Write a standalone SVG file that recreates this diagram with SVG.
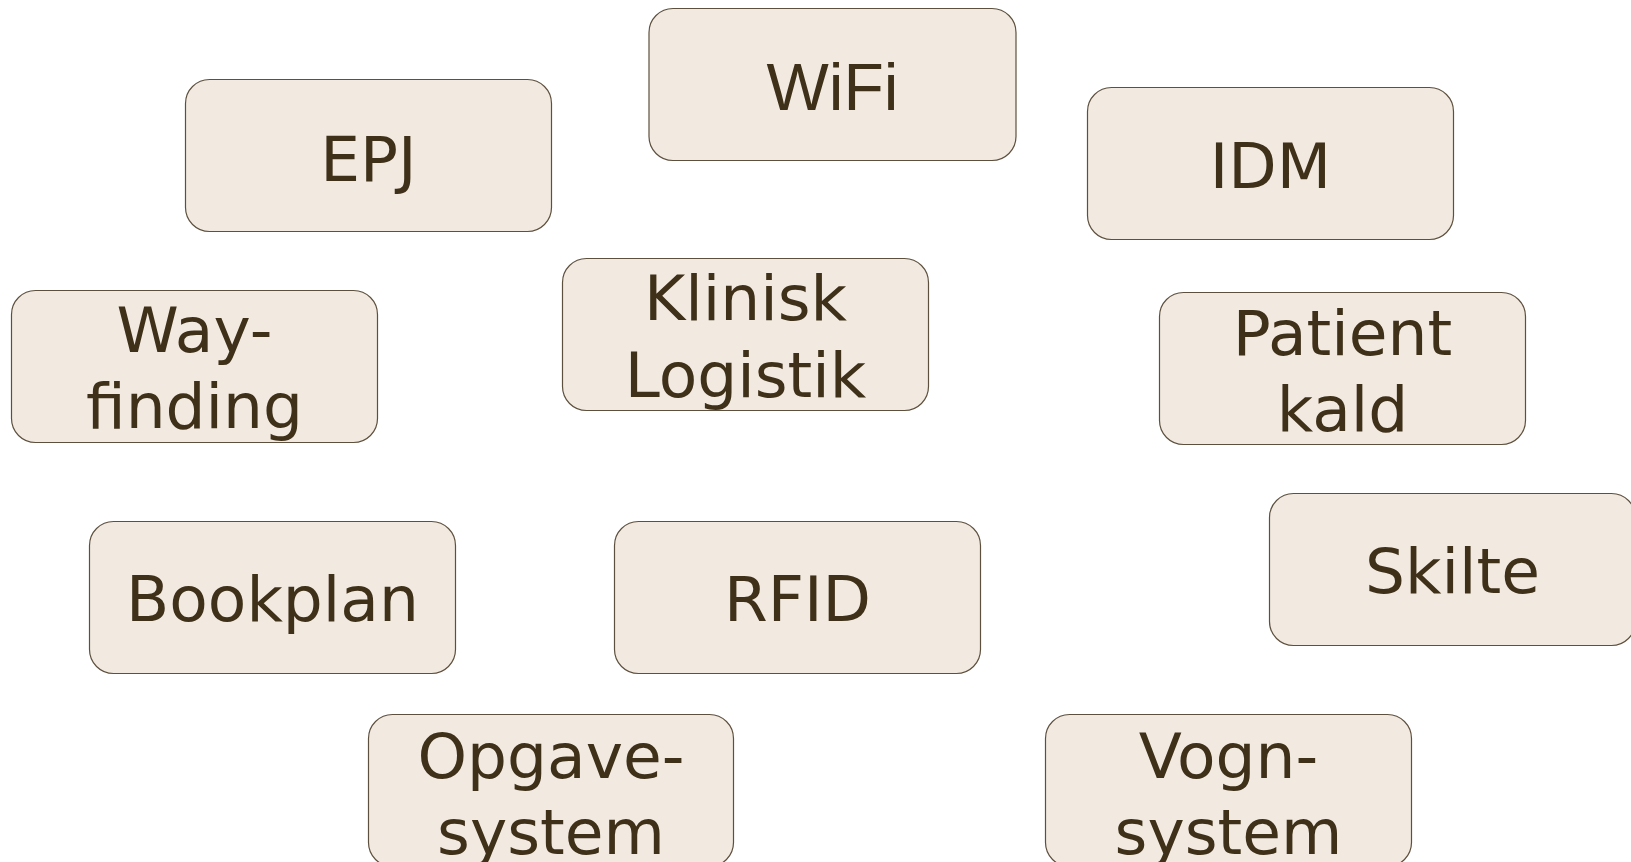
<svg xmlns="http://www.w3.org/2000/svg" width="1631" height="862" viewBox="0 0 1631 862">
<style>
.box{fill:#F2EAE0;stroke:#5E503E;stroke-width:1.2}
.t{font-family:"DejaVu Sans","Verdana",sans-serif;font-size:63px;fill:#3F3119;text-anchor:middle}
.a{font-family:"Liberation Sans",Arial,sans-serif;font-size:66px;fill:#3F3119;text-anchor:middle}
</style>
<rect width="1631" height="862" fill="#FFFFFF"/>
<g id="connectors"></g>
<g id="wifi"><rect class="box" x="649" y="8.5" width="367" height="152" rx="24"/><text class="a" x="832.5" y="110">WiFi</text></g>
<g id="epj"><rect class="box" x="185.5" y="79.5" width="366" height="152" rx="24"/><text class="t" x="368.5" y="181">EPJ</text></g>
<g id="idm"><rect class="box" x="1087.5" y="87.5" width="366" height="152" rx="24"/><text class="t" x="1270.5" y="188">IDM</text></g>
<g id="wayfinding"><rect class="box" x="11.5" y="290.5" width="366" height="152" rx="24"/><text class="t" x="194.5" y="352">Way-</text><text class="t" x="194.5" y="428">finding</text></g>
<g id="klinisk"><rect class="box" x="562.5" y="258.5" width="366" height="152" rx="24"/><text class="t" x="745.5" y="320">Klinisk</text><text class="t" x="745.5" y="397">Logistik</text></g>
<g id="patient"><rect class="box" x="1159.5" y="292.5" width="366" height="152" rx="24"/><text class="t" x="1342.5" y="355">Patient</text><text class="t" x="1342.5" y="431">kald</text></g>
<g id="bookplan"><rect class="box" x="89.5" y="521.5" width="366" height="152" rx="24"/><text class="t" x="272.5" y="621">Bookplan</text></g>
<g id="rfid"><rect class="box" x="614.5" y="521.5" width="366" height="152" rx="24"/><text class="t" x="797.5" y="621">RFID</text></g>
<g id="skilte"><rect class="box" x="1269.5" y="493.5" width="366" height="152" rx="24"/><text class="t" x="1452.5" y="593">Skilte</text></g>
<g id="opgave"><rect class="box" x="368.5" y="714.5" width="365" height="152" rx="24"/><text class="t" x="551" y="778">Opgave-</text><text class="t" x="551" y="854">system</text></g>
<g id="vogn"><rect class="box" x="1045.5" y="714.5" width="366" height="152" rx="24"/><text class="t" x="1228.5" y="778">Vogn-</text><text class="t" x="1228.5" y="854">system</text></g>
</svg>
